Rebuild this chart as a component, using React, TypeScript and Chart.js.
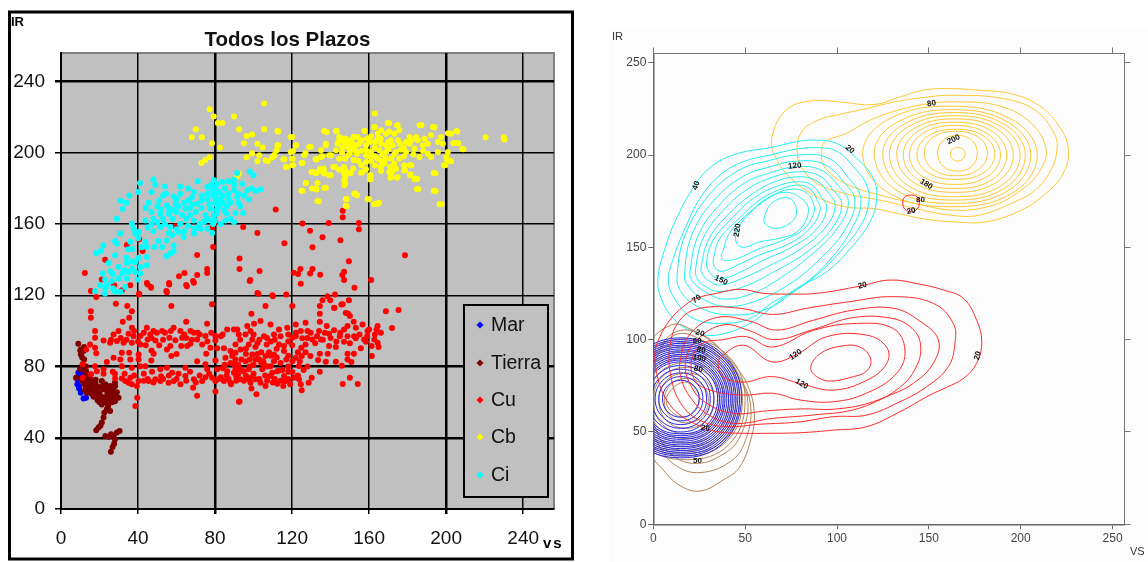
import React, { useEffect, useRef } from "react";
import { Chart, registerables } from "chart.js";

Chart.register(...registerables);

type P = number[];

const chartTitle = "Todos los Plazos";
const leftTicks = [0, 40, 80, 120, 160, 200, 240];
const rightTicks = [0, 50, 100, 150, 200, 250];
const seriesNames = ["Mar", "Tierra", "Cu", "Cb", "Ci"];

const marCloud: P[] = [[9, 76.5], [8.5, 72.8], [8.5, 70], [9.4, 67.7], [10.3, 65.3], [11.7, 62], [10.8, 77.4], [10.3, 74.6], [16, 67.2], [16.9, 68.1], [9, 74], [9.2, 69], [13, 62.5]];

const tierraCloud: P[] = [[9, 92.8], [10.3, 89.6], [10.3, 86.8], [11.7, 88.7], [11.3, 81.2], [9.9, 78.4], [7.8, 73.7], [11.7, 78.4], [12.5, 74.6], [14.3, 71.8], [15.1, 68.1], [13.4, 65.3], [16.9, 71.8], [17.7, 67.2], [18.6, 63.4], [21.2, 71.8], [22.1, 67.2], [23, 62.5], [25.5, 69], [25.5, 65.3], [28.1, 69], [28.1, 63.4], [29.9, 62.5], [23.8, 59.7], [21.2, 58.7], [25.5, 55], [23.8, 56], [22.1, 51.3], [21.2, 48.5], [19.5, 45.7], [18.3, 44.2], [24.7, 40.6], [27.3, 41], [29, 42.9], [30.4, 43.8], [27.6, 36.7], [26.8, 34.8], [25.9, 32.2], [12, 84], [13, 80], [13.5, 76], [12, 70], [14, 68], [16, 64.5], [18, 70], [20, 65], [20, 68.5], [24, 66], [26, 62.5], [27, 66.5], [23, 70], [26.5, 60], [15, 74], [17, 66], [19, 61], [28, 71], [24, 64], [22, 60.5], [10, 89], [13, 73], [14.5, 70], [15.5, 66], [17, 63], [19, 66.5], [21, 63], [22, 69], [24, 68], [26, 67.5], [27, 64], [29, 65.5], [12.5, 67], [11, 72], [13, 77.5], [16, 69], [18, 72.5], [20, 60], [25, 61.5], [28, 60.5], [24.5, 58], [22.5, 54], [20.5, 46.8], [26, 42], [28, 39], [23, 41], [11, 85], [12, 91]];

const cuCloud: P[] = [[111.5, 168.2], [94.6, 158.3], [102, 155], [79, 147.1], [70.7, 142.6], [92.7, 140.6], [92.7, 134.8], [103.1, 133.6], [98, 128], [75.9, 134.8], [75.9, 132.5], [70.7, 131.4], [64.1, 132.5], [61.3, 130.7], [68.6, 128], [65, 125.8], [56.1, 126.9], [44.6, 126.9], [46.7, 124.7], [54.7, 122.4], [12.4, 132.5], [34.2, 148.2], [40.6, 151.4], [42.4, 144.9], [22.9, 140], [21.2, 128.8], [15.5, 122.4], [18.3, 119], [27.6, 125.6], [36, 125.6], [31.6, 122.8], [40.6, 120.9], [102, 121.3], [109.7, 120], [80.2, 161.1], [78.5, 158], [59.4, 158.7],
[146.3, 167.4], [146.3, 163.8], [154.7, 160.6], [154.7, 157.1], [139, 160.6], [125.4, 160.3], [129.3, 156.2], [135.8, 152.6], [145.1, 150.9], [130.6, 147], [116, 149.2], [149.5, 139.1], [178.6, 142.5], [120.8, 132.6], [124.3, 134.7], [123.1, 131.9], [130.6, 134.7], [129.4, 132.2], [134.6, 131.5], [147, 133.2], [146.1, 131.3], [98.3, 128.5], [161, 128.5], [147, 128.5],
[45, 126], [56.2, 126], [65.4, 125], [69, 127], [102.5, 120.8], [110.1, 119.5], [117, 120.4], [138.4, 119.5], [142.3, 120.4], [152.4, 124.2], [124.5, 126.4], [135.8, 117.2], [78.4, 115], [40.5, 120.4], [55, 121.7], [46.8, 124.2], [139.8, 117.2], [142, 112.9], [146.3, 115], [149.5, 117.2], [149, 109.8],
[106.2, 113.9], [120.1, 113.9], [134.4, 113.9], [145.6, 114.8], [141.8, 113], [134.4, 109.6], [98.9, 109.6], [147.9, 110], [150, 108.3], [152, 105.1], [168.7, 111], [175.3, 111.7], [171.9, 101.6], [164.4, 102.7], [163.9, 100.8], [166.1, 99], [160, 100.8], [159.2, 99.9], [156.6, 103.6], [153.1, 101.7], [148.8, 102.7], [147, 100.8], [141.8, 100.3], [139.2, 98.4], [134, 99.9], [134.9, 95.2], [130.5, 95.2], [129.7, 98.9], [124.5, 99.9], [121.9, 103.6], [127, 104.6], [134.4, 105.1], [138, 102.7], [121.9, 97], [125.3, 95.8], [120.1, 96.1], [127, 92.4], [124.8, 90.5], [139.2, 91.5], [142.7, 90.9], [147, 93.9], [144.8, 97], [148.8, 97], [152.2, 97], [153.1, 95.8], [157.4, 95.2], [158.3, 93.9], [162.7, 95.2], [164.4, 93.3], [164.9, 90.9], [161.3, 91.5], [155.7, 90.2], [161.4, 85.9], [152.1, 87.2], [148.8, 87.2], [148.8, 84], [150.8, 82.5], [138.5, 87.2], [134.4, 87.2], [129.5, 85.9], [133.5, 83.6], [137.5, 82.7], [142.7, 82.7], [145.8, 80.4], [126, 78], [134.4, 77], [130.2, 73.7], [128.6, 70.9], [150, 73.7], [146.3, 70.2], [154.1, 70.2], [121.9, 84.9], [125, 85.9], [120.1, 83], [123.6, 80.3], [120.1, 76.9], [121, 73.7], [123.6, 72.8], [124.5, 70], [125, 66.6], [115.8, 74.6], [116.6, 71.8], [115.4, 69], [112.3, 70.3], [106.2, 69], [98.9, 67.7], [101.5, 64.4], [92.7, 60.3], [113.2, 77.8], [109.7, 76.5], [108.8, 80.2], [104.5, 78.4], [110.6, 83], [110.6, 86.8], [106.8, 92.4], [106.2, 85.9], [99.3, 86.8], [93.2, 89.6], [97.5, 92.4], [113.2, 92.4], [115.8, 91.5], [115.8, 88.7], [100.2, 104], [103.6, 105.5], [108.8, 103.6], [113.2, 100.8], [117.5, 101.7], [96.7, 102.7], [91.5, 100.8], [98.4, 99.9], [105.4, 97], [110.6, 98], [95.8, 98], [92.3, 98], [99.3, 95.2], [90.6, 92.4], [93.7, 84], [90.6, 84], [88.9, 85.9], [95.8, 83], [101, 84], [105.4, 81.2], [97.5, 78.4], [93.2, 78.4], [90.6, 78.4], [94.9, 77.4], [93.2, 72.8], [97.5, 72.8], [101, 72.8], [98.4, 70.9], [103.6, 70.9], [88.3, 70], [108.8, 74.6], [112.3, 77.4],
[57.3, 113.9], [28.5, 115.2], [34.4, 113.9], [15.5, 111], [15.5, 107.4], [36.8, 111], [35.4, 107.4], [32.1, 105.1], [65, 105.1], [75.9, 104], [17.7, 99.9], [44.6, 101.7], [36.8, 101.7], [27.3, 98], [29.9, 99.9], [35.1, 98.4], [41.2, 97.1], [46.4, 98], [49.8, 98.9], [52.5, 99.9], [58.5, 101.7], [62, 99.9], [67.2, 99.9], [69, 98.9], [75, 97.1], [80.2, 97.1], [86.3, 100.8], [89.8, 100.8], [17.7, 96.1], [22.1, 94.6], [25.5, 93.3], [29, 94.3], [32.5, 93.3], [37.7, 97], [36.8, 93.3], [41.2, 92.4], [45, 95.2], [49, 94.6], [56.3, 96.1], [59.4, 94.8], [62.9, 96.1], [62.4, 91.5], [67.2, 92.8], [65.5, 91.5], [55, 89.6], [56.8, 91.5], [70.7, 95.2], [73.3, 92.4], [80.2, 94.6], [77.6, 90.5], [81.1, 90.2], [84.6, 90.2], [88, 88.7], [90.6, 87.7], [75.4, 87.2], [15.1, 92.4], [13.1, 89.6], [17.7, 90.5], [18.3, 87.4], [31.6, 87.7], [35.4, 87.7], [40.3, 86.8], [48.1, 87.2], [57.3, 85.9], [27.3, 84.9], [23.8, 82.5], [30.8, 84], [36, 84], [40.3, 84], [46.9, 83.4], [43.8, 80.2], [31.6, 80.2], [36.8, 79.3], [41.2, 80.2], [17.7, 80.2], [18.6, 77.4], [22.1, 78.4], [22.1, 76], [26.9, 77], [11.3, 81.2], [11.3, 73.7], [15.6, 75.6], [47.3, 77], [51.6, 78.4], [55, 79.3], [57.7, 76.5], [64.6, 79.3], [70.7, 83], [75, 81.2], [80.2, 83.4], [85.4, 84.9], [89.8, 81.2], [75.9, 78.4], [81.1, 78.4], [86.3, 77.4], [89.8, 76.5], [28.1, 73.3], [31.6, 73.3], [35.1, 70.9], [36.8, 70], [40.3, 71.8], [39.4, 69], [45.5, 71.8], [49, 72.8], [51.6, 71.8], [55.9, 70.9], [58.5, 71.8], [64.6, 74.6], [62, 70], [69, 72.8], [73.3, 71.8], [78.5, 73.7], [80.2, 71.8], [84.6, 71.8], [88, 70.9], [68.6, 68.1], [80.2, 65.9], [70.7, 63.6], [92.4, 60.2], [39.6, 62.5], [38.6, 57.8], [36, 73.7], [33.4, 71.8],
[43, 76], [52, 74.5], [60, 73], [67, 77], [72, 75], [77, 76], [83, 74], [91, 74.5], [96, 75], [100, 76], [106, 75], [111, 73], [118, 73], [44, 92], [51, 92], [47, 89], [60, 87], [65, 96], [72, 98], [83, 97], [93, 95], [102, 93], [109, 94], [118, 94], [128, 96], [132, 93], [136, 95], [143, 94], [150, 93], [104, 88], [112, 90], [118, 86], [127, 88], [123, 75], [103, 84], [107, 80], [100, 81], [92, 81], [96, 87], [88, 82], [84, 79], [118, 80], [114, 82], [128, 80],
[38, 100], [43, 99], [48, 100], [54, 99], [57, 100], [64, 98], [71, 99], [78, 99], [84, 98], [26, 95], [31, 96], [34, 95], [40, 94], [47, 96], [53, 95], [68, 95], [76, 94], [45, 73], [48, 71], [53, 73], [56, 75], [61, 76], [65, 72], [70, 71], [75, 74], [82, 73], [86, 75], [91, 72], [95, 72], [99, 74], [103, 73], [107, 72], [110, 71], [114, 72], [28, 76], [33, 76], [38, 75], [43, 72], [85, 81], [98, 84], [102, 87], [108, 88], [112, 85], [117, 84], [103, 95], [107, 96], [111, 95], [100, 98], [114, 97], [118, 98], [122, 99], [128, 100], [133, 97], [137, 99], [140, 96], [145, 99], [109, 86], [115, 78], [119, 70], [98, 80], [104, 82], [92, 76], [87, 73], [96, 90], [101, 91], [105, 83], [118, 77], [124, 83], [123, 88], [120, 92], [155, 98], [159, 97], [163, 98]];

const cbCloud: P[] = [[77.2, 224.4], [79.3, 220.4], [89.9, 220.4], [105.5, 227.7], [81.4, 216.7], [83.7, 216.7], [70, 213.2], [92.5, 213.2], [105.5, 213.2], [112.8, 212], [67.9, 208.7], [73.2, 208.7], [96.4, 209.4], [99.2, 210.2], [78.4, 205.3], [95, 205.3], [82.6, 203], [104.8, 203], [102, 205], [112.8, 204.2], [77.2, 197.5], [74.9, 196], [73, 194.3], [99.2, 199.7], [96.4, 197.5], [103, 198.6], [102, 195.2], [106.3, 195.8], [107.4, 195.2], [110.7, 198.6], [109.7, 197.3], [112, 201.4], [116, 196.3], [117.2, 192], [92.5, 188.3], [91.6, 186.8], [120, 208.9], [122, 204.2], [120.5, 201], [120, 196.7], [120.5, 193], [129.8, 203.3], [127, 199.9], [125.4, 194.3], [132.7, 196.2], [135.6, 198], [140.3, 198.6], [137.5, 204.2], [138, 211.7], [143.2, 212.2], [130.8, 189.2], [132.7, 188.7], [134.6, 190.2], [136.5, 191.1], [137.1, 188.3], [140, 187.4], [142.3, 192], [127.3, 183], [125.4, 178.6], [130.4, 179.9], [132.7, 179.3], [137.5, 180.3], [133.8, 172.8], [148.4, 173.9], [152.8, 177.1], [153.7, 176.2], [148.4, 170], [160, 173.9], [163.3, 171.5], [165.2, 171.9], [147.6, 190.2], [147.6, 186.4], [147.6, 182.7], [150.5, 188.7], [156.6, 189.2], [160.8, 187.4], [160.8, 185.5], [162.9, 222], [162.9, 214.3], [170.4, 216.5], [157.6, 212.2], [166.2, 212.6], [170.4, 212], [174.8, 215.4], [175.7, 212.6], [187.2, 215.4], [193.9, 214.3], [205.8, 212], [202.5, 210.7], [220.5, 208.7], [229.9, 208.7], [230.2, 207.4], [206.3, 205.3], [203.8, 205.3], [209, 202], [202.5, 195.2], [199.6, 193], [200.6, 195.8], [194.5, 188.5], [185, 185.3], [185.5, 179.5], [194.5, 178.4], [197.7, 171.1], [181.5, 187.9], [184, 185.5], [181.9, 193], [178.6, 190.2], [171.9, 189.2], [171.3, 186.4], [174.8, 186.4],
[142.8, 212.2], [136.7, 212.2], [144.5, 208.8], [148, 207.9], [150.6, 207], [154, 208.8], [157.5, 212.2], [161, 209.2], [164.5, 210.7], [168.8, 210.7], [162.7, 214.4], [169.7, 216.7], [174.5, 215.4], [173.1, 210.7], [181, 208.8], [186.2, 215.4], [193.1, 214.4], [184.4, 208.8], [192.2, 209.8], [197.4, 208.8], [200.9, 211], [205.3, 212.2], [143.6, 205], [144.5, 207], [148, 204.2], [149.7, 205], [150.6, 202.3], [153.2, 204.2], [155.8, 207], [158.4, 204.2], [160.1, 206], [164.5, 207.9], [171.4, 207], [168.8, 204.2], [172.3, 204.2], [166.2, 205], [179.2, 206], [181, 205], [185.3, 207], [188.8, 207.9], [187.9, 204.2], [190.5, 205], [195.7, 206], [198.3, 205], [204.4, 205.5], [206.1, 205.5], [208.4, 202.1], [183.6, 202.3], [179.2, 200.4], [176.6, 201.7], [174, 200.4], [168.8, 200.4], [165.3, 201.4], [161, 200.4], [158.4, 201.4], [153.7, 199.5], [149.2, 198.6], [147.4, 196.7], [144.5, 196.7], [154.4, 195.4], [158.4, 198.6], [158.4, 194.8], [161, 195.4], [164.5, 196.7], [166.2, 195.4], [168.8, 196.7], [171.4, 196.7], [173.1, 193.9], [175.7, 196.7], [178.3, 193], [178.3, 190.1], [181.3, 193], [181.3, 187.3], [183.6, 185.1], [174.5, 186], [170.5, 189.2], [171.1, 186], [166.2, 189.8], [160.5, 187.3], [160.5, 185], [155.8, 188.8], [151.8, 191.1], [158.4, 190.7], [150, 188.6], [147.1, 188.3], [147.1, 184.5], [147.1, 181.7], [144.5, 190.5], [141.5, 192], [139.3, 187.3], [136.3, 188.6], [134.4, 190.7], [132.3, 188.6], [130.1, 189.2], [127.1, 183], [124.9, 178.6], [133.2, 183], [132.3, 179.9], [136.7, 180.2], [133.2, 172.9], [147.9, 174], [152.3, 177], [159.2, 174], [164.5, 171.4], [147.9, 170.1], [162.7, 171.1], [193.6, 188.6], [184.8, 179.7], [193.6, 178.6], [196.6, 171.1], [186.2, 197.6], [192.2, 197.6], [190.5, 199.5], [195.7, 200.4], [200.9, 200.4], [200, 197.6], [198.8, 193], [202.1, 195.4], [110.6, 198.6], [115.5, 196.3], [116.7, 192], [119.3, 208.8], [112.4, 212.2], [112.4, 204.2], [121.9, 204.2], [119.3, 200.4], [120.2, 196.7], [120.2, 193], [126.3, 198.6], [125, 194.3], [128.9, 203.2], [135, 201.4], [132.3, 196.3], [134.9, 197.6], [139.3, 198.6], [137.5, 205], [142.8, 201.4], [146, 203], [151, 206], [152, 203], [156, 201], [146, 200], [155, 205], [163, 203], [170, 202], [176, 205], [178, 198], [183, 199], [188, 201], [163, 198], [160, 198], [173, 199], [167, 199], [147, 206], [150, 200], [152, 209], [156, 207], [149, 203], [147, 208], [153, 201], [159, 208], [163, 206], [166, 208], [170, 206], [175, 207], [178, 203], [182, 207], [147, 192], [152, 196], [156, 193], [163, 193], [166, 192], [168, 194], [171, 192], [174, 191]];

const ciCloud: P[] = [[48, 185], [41, 183], [49, 182], [40, 178], [35.5, 176], [31, 173], [34, 172], [32, 168.5], [29, 163], [47, 178], [54, 181], [54.5, 177], [58.5, 175.5], [62, 181], [66, 180], [71, 184], [69, 178], [62, 177], [45.5, 172], [51, 173], [55, 170.5], [59.5, 171.5], [44, 169], [47, 166.7], [51.5, 165.8], [56, 165.8], [60, 166.7], [64.6, 168.6], [70, 166.7], [66.3, 173.3], [70.7, 171.4], [76, 174], [76, 180.8], [79.4, 184.5], [78.5, 178.9], [83.7, 183.6], [89.8, 184.9], [91.5, 188.6], [98, 189.5], [100, 187.3], [94, 182.6], [96.7, 178.9], [103.7, 179.4], [101, 178.5], [97.6, 173.7], [91.5, 175], [87, 177], [82.8, 174.2], [81, 170.5], [84.6, 167.7], [77.6, 168.6], [90.6, 166.2], [94.6, 166.2], [89.8, 161.1], [85.4, 162], [79.4, 164.9], [74.2, 161.1], [69, 162], [76, 157.4], [78.5, 155], [72.4, 157.4], [69, 154.6], [69, 157.4], [63.7, 152.7], [61, 155.5], [56.8, 158.3], [51.6, 158.3], [57.7, 153.7], [55, 150.8], [50.7, 150.5], [43.8, 162], [36.8, 160.2], [37.7, 157.4], [40.3, 155.5], [30.8, 154.6], [28.1, 150.5], [29, 149], [22, 148], [20.7, 144.9], [18.3, 143.7], [28.1, 142.4], [24.7, 138.1], [34.2, 138.1], [35, 145.8], [38.6, 154.6], [43.8, 149.9], [44.6, 147.1], [48.5, 147.1], [52.5, 147.1], [58.5, 148], [58.5, 144.7], [54.7, 141.9], [56.8, 143.4], [40.3, 141.1], [44.6, 141.5], [38.6, 138.7], [44.6, 136.8], [41.2, 135.9], [36.8, 135], [29.9, 135.9], [25.5, 133.5], [21.7, 132.2], [22.9, 128.8], [26.4, 128], [31.6, 132.2], [34.2, 129.4], [38.6, 133], [41.2, 132.2], [39.8, 128.8], [20.3, 125.6], [17.7, 122.4], [22.9, 121], [28.1, 121.9], [30.8, 121.9], [33.4, 124.7], [29.9, 129.4],
[48, 163], [52, 168], [54, 160], [58, 163], [62, 160], [65, 163], [67, 169], [73, 169], [73, 176], [79, 176], [80, 180], [82, 178], [85, 180], [88, 172], [90, 179], [93, 170], [81, 166], [83, 160], [80, 172], [82, 170], [77, 171], [75, 165], [72, 160], [66, 159], [60, 157], [56, 155], [48, 156], [45, 158], [40, 152], [36, 150], [37, 146], [42, 147], [34, 141], [37, 139], [33, 134], [35, 133], [27, 132], [24, 126], [27, 124], [23, 124], [80, 178], [81, 182], [81, 168], [80, 162], [79, 160], [76, 163], [73, 173], [68, 175], [64, 172], [61, 170], [58, 168], [53, 163], [99, 180], [95, 176], [92, 172], [86, 170], [84, 176], [78, 182], [90, 182], [87, 184], [50, 161], [56, 169], [63, 165], [67, 165], [71, 158], [64, 156], [78, 162], [83, 172], [87, 174], [92, 177], [76, 177], [80, 175], [84, 172], [86, 166], [88, 163], [68, 171], [60, 174], [53, 176], [50, 170], [47, 160]];

const contoursCb: P[][] = [
  [[64.6, 209.8], [72.2, 224.3], [85.6, 229.3], [100.9, 228.8], [120, 227.3], [133.3, 231.1], [146.7, 235.1], [160, 236], [177.3, 235.1], [194.5, 233.3], [209.7, 227], [221.2, 215.2], [226, 202.6], [223.1, 190], [213.6, 179.1], [200.2, 170.1], [181.1, 163.8], [163.9, 163.8], [148.6, 165.2], [133.3, 168.3], [120, 171], [104.7, 171.9], [89.4, 177.3], [76, 186.4], [66.5, 199], [64.6, 209.8]],
  [[78.3, 200.8], [80.7, 212.5], [89.4, 218.8], [100.9, 221.9], [116.2, 225.2], [131.5, 228.8], [149.6, 231.5], [163.9, 232.4], [190.6, 230.6], [207.8, 224.3], [218.3, 211.6], [219.7, 202.6], [216.4, 191.8], [207.8, 180.9], [194.5, 173.7], [177.3, 167.4], [162, 167.4], [142.9, 171], [123.8, 175.5], [104.7, 179.1], [89.4, 184.5], [81.8, 191.8], [78.3, 200.8]],
  [[91.7, 200.8], [93.2, 207.1], [104.7, 211.6], [118, 218.8], [133.3, 224.3], [150.5, 227.9], [165.8, 228.8], [186.8, 227], [204, 218.8], [213.6, 204.4], [210.7, 191.8], [200.2, 181], [184.9, 172.8], [163.9, 170.1], [142.9, 173.7], [123.8, 178.2], [104.7, 184.5], [93.2, 193.6], [91.7, 200.8]],
  [[209, 200], [195.7, 219], [161.5, 226.5], [127.3, 219], [114, 201], [127.3, 180], [161.5, 172], [195.7, 179.5], [209, 200]],
  [[205.5, 200], [193.6, 217.5], [162.9, 224.6], [132.2, 217.5], [120.2, 201], [132.2, 181], [162.9, 173.8], [193.6, 181], [205.5, 200]],
  [[202.5, 200], [191.7, 216.3], [163.7, 223], [135.7, 216.3], [124.9, 200.5], [135.7, 182.3], [163.7, 175.6], [191.7, 182.3], [202.5, 200]],
  [[199.7, 200], [189.7, 215.2], [164.1, 221.3], [138.5, 215.2], [128.5, 200.5], [138.5, 183.6], [164.1, 177.4], [189.7, 183.6], [199.7, 200]],
  [[196, 200], [187.1, 214], [164.2, 219.6], [141.3, 214], [132.5, 200.5], [141.3, 185.4], [164.2, 179.8], [187.1, 185.4], [196, 200]],
  [[192.4, 200], [184.5, 212.8], [164.2, 217.8], [143.9, 212.8], [136.1, 200], [143.9, 186.8], [164.2, 181.9], [184.5, 186.8], [192.4, 200]],
  [[189, 200], [182.1, 211.4], [164.2, 216], [146.3, 211.4], [139.4, 200], [146.3, 188.6], [164.2, 184.1], [182.1, 188.6], [189, 200]],
  [[186, 200.4], [180, 210.2], [164.7, 214], [149.4, 210.2], [143.5, 200.4], [149.4, 190.6], [164.7, 186.8], [180, 190.6], [186, 200.4]],
  [[181.9, 201], [177.1, 209.6], [164.7, 212.9], [152.3, 209.6], [147.5, 201], [152.3, 192.2], [164.7, 188.8], [177.1, 192.2], [181.9, 201]],
  [[176.4, 201], [173.4, 208], [165.6, 210.6], [157.8, 208], [154.8, 201], [157.8, 194], [165.6, 191.3], [173.4, 194], [176.4, 201]],
  [[169.7, 200.5], [168.6, 203.2], [165.7, 204], [162.8, 203.2], [161.7, 200.5], [162.8, 198], [165.7, 196.7], [168.6, 198], [169.7, 200.5]],
];

const contoursCi: P[][] = [
  [[2.7, 135], [6.4, 149.4], [11.8, 163.9], [22.7, 183.7], [32.7, 194.6], [46.3, 200.9], [63.5, 204], [78, 207.2], [87.1, 208.1], [99.8, 206.3], [110.7, 198.2], [119.8, 187.3], [121.6, 176.5], [118, 163.9], [108.9, 151.2], [94.4, 136.8], [78, 127.8], [63.5, 116.9], [52.6, 108.8], [34.5, 102.5], [21.8, 104.3], [10.9, 111.5], [3.6, 124.2], [2.7, 135]],
  [[8.2, 131.4], [10.9, 144], [17.3, 160.3], [25.4, 176.5], [36.3, 189.1], [49, 196.4], [63.5, 200], [78, 203.2], [89, 204], [99.8, 202.1], [108.9, 193.7], [116.2, 183.7], [117.1, 172.9], [112.5, 161.2], [101.7, 147.6], [89, 135], [76.2, 126], [65.4, 120.5], [52.6, 111.5], [37.2, 108.8], [21.8, 111.5], [12.7, 120.5], [8.2, 131.4]],
  [[13, 135], [17.3, 156.6], [30, 178], [47, 192], [63, 197], [78, 200], [95, 198.5], [106, 188], [113, 176], [108, 160], [95, 142], [78, 127], [60, 116], [40, 113.5], [24, 118], [15, 126], [13, 135]],
  [[17, 135], [20.9, 156.6], [33, 175.5], [49, 188.5], [63, 193.5], [78, 196.7], [93, 195], [104, 185], [109.8, 175], [104, 159], [90, 143], [74, 130], [56, 121], [40, 118], [27, 122], [19, 129], [17, 135]],
  [[20, 137], [24.5, 156.6], [36, 173], [50, 185], [64, 190.5], [78, 193.7], [91, 192], [101, 183], [106.2, 174], [100, 160], [86, 146], [70, 134], [54, 125], [38, 122], [28, 126], [21, 132], [20, 137]],
  [[23, 138], [27.2, 155], [38, 170], [52, 182], [65, 188], [78, 190.9], [90, 189], [98, 181], [102.6, 173], [97, 160], [83, 147], [66, 137], [50, 129], [36, 126], [28, 129], [24, 133], [23, 138]],
  [[26, 139], [30.5, 155], [41, 168], [54, 179], [66, 185.5], [78, 188.2], [88, 186.5], [95, 180], [99, 172], [93, 160], [80, 149], [63, 140], [48, 133], [36, 129.6], [30, 132], [27, 135], [26, 139]],
  [[29, 141], [32.7, 154], [43, 166], [55, 177], [67, 183], [78, 185.5], [86, 184], [91, 178], [94.4, 171], [89, 160], [77, 151], [60, 143], [46, 136], [37, 133], [32, 135], [29, 141]],
  [[33, 145], [36.3, 155], [46, 165], [57, 175], [68, 181], [78, 183.7], [85, 182], [89, 176], [90.8, 170], [85, 160], [74, 152], [58, 146], [45, 140], [37, 137], [33, 140], [33, 145]],
  [[38, 148], [41, 157], [49, 166], [59, 174], [69, 180], [78, 181.5], [84, 179], [87, 174], [87.5, 169], [82, 160], [71, 154], [57, 149], [46, 144], [39, 143], [37, 145], [38, 148]],
  [[45, 153], [46, 160], [53, 169], [61, 176], [71, 179.8], [80, 177], [84.5, 170], [79, 159], [69, 155], [58, 153], [49, 150], [45, 153]],
  [[60.8, 167.5], [65.4, 174.7], [74.4, 176.5], [78, 169.3], [74.4, 163], [66.2, 160.3], [60.8, 163], [60.8, 167.5]],
];

const contoursCu: P[][] = [
  [[0.9, 92.6], [3.6, 101.6], [9, 110.6], [16.3, 117.9], [23.6, 122.4], [34.5, 125.1], [47.2, 127.3], [59.9, 125.1], [72.6, 124.7], [89, 125.1], [112.5, 129], [128.9, 132.3], [145.2, 130], [157.9, 126.9], [168.8, 122.4], [176, 110.6], [178.8, 98.9], [176, 87.2], [168.8, 79], [159.7, 74.2], [150.6, 70], [134.3, 61], [116.2, 52.9], [98, 51], [79.9, 49.6], [63.5, 49.3], [48.5, 49.3], [34.5, 50.2], [25.4, 53.2], [14.5, 59.2], [7.3, 67.3], [2.7, 78.2], [0.9, 92.6]],
  [[9, 96], [14.5, 110.6], [25.4, 117], [47.2, 117], [65.3, 113.7], [83.5, 117], [107, 120.6], [130.7, 123.3], [152.4, 119.7], [163.3, 108.8], [164.2, 98], [160.6, 85.4], [148.8, 74.5], [134.3, 66.4], [116.2, 59.2], [98, 58.3], [79.9, 55.5], [58, 54.2], [40, 52.9], [26, 56], [16, 64], [10, 78], [9, 96]],
  [[14.5, 88], [20, 103], [34.5, 112], [52.6, 110], [67, 105.2], [87, 110.5], [108.9, 116], [130.7, 117], [145.2, 110], [155.2, 99.8], [152.4, 87.2], [141.6, 76.4], [127, 69.1], [108.9, 62], [87, 59.2], [65.3, 57.4], [43.6, 54.7], [29, 60], [20, 69], [15.4, 78.2], [14.5, 88]],
  [[17.5, 88], [24, 100], [38, 108], [52, 105], [66, 100], [87, 105.5], [109, 112], [130, 111.5], [141, 106], [145.5, 97], [143, 85], [134, 74], [120, 66.5], [100, 62.5], [80, 62.5], [62, 61.5], [44, 60], [30, 65], [21, 74], [17.5, 88]],
  [[20.9, 89], [27, 98], [38, 100], [50.8, 101.6], [65, 96], [87, 105], [110.7, 108.8], [130.7, 106], [137, 94.4], [132.5, 81.8], [116, 71], [98, 66.4], [80, 67.3], [65, 71], [49, 70], [30.9, 72.7], [22.7, 78], [20.9, 89]],
  [[35.4, 85.4], [36.3, 90], [49, 97], [64.4, 88], [78, 92], [94.4, 101.6], [116, 102.5], [127, 96], [127, 87], [116.2, 78], [98, 72.7], [80.8, 76], [64.4, 80], [49, 77], [38, 80], [35.4, 85.4]],
  [[85.7, 85], [90.7, 92.3], [101.6, 96.4], [112.5, 96], [118.3, 89.5], [116.1, 83], [107, 79.5], [96.1, 77.6], [88.9, 80], [85.7, 85]],
  [[144.8, 174], [143.5, 177.4], [140.3, 178.3], [137, 177.4], [135.8, 174], [137, 170.6], [140.3, 169.3], [143.5, 170.6], [144.8, 174]],
];

const contoursTierra: P[][] = [
  [[10, 108], [21.8, 105], [32.7, 98], [43.6, 87], [51.7, 74.5], [55, 60], [53.5, 47.5], [47, 31], [38, 24], [25.4, 18], [14.5, 21], [5.4, 29.4], [-1, 38.4], [-6, 70], [-4, 95], [10, 108]],
  [[53, 64], [50, 45], [42, 34], [25.4, 28], [12, 32], [3, 43], [-4, 58], [-3, 80], [5, 98], [15, 105], [28, 102], [38, 93], [47, 80], [53, 64]],
  [[51.5, 66], [47, 47], [38, 38], [24, 33], [11, 37], [2, 50], [-3, 70], [3, 93], [13, 103], [26, 100], [36, 92], [45, 82], [51.5, 66]],
  [[50, 67], [41, 91], [18, 100.5], [-5, 91], [-14, 67], [-5, 43], [18, 35], [41, 43], [50, 67]],
  [[48.5, 67], [40, 89], [18, 98.5], [-4, 89], [-12.5, 67], [-4, 45], [18, 37], [40, 45], [48.5, 67]],
  [[47, 67], [38.9, 88], [18, 96.5], [-3, 88], [-11, 67], [-3, 46], [18, 38.5], [38.9, 46], [47, 67]],
  [[45, 67], [37.4, 86], [18, 94], [-1.4, 86], [-9, 67], [-1.4, 48], [18, 40], [37.4, 48], [45, 67]],
  [[43, 67], [36, 85], [18, 92], [0, 85], [-7, 67], [0, 49], [18, 42], [36, 49], [43, 67]],
  [[41, 67], [34.6, 83.6], [18, 90], [1.4, 83.6], [-5, 67], [1.4, 50.4], [18, 44], [34.6, 50.4], [41, 67]],
  [[38.5, 67], [32.8, 82], [18, 87.5], [3.2, 82], [-2.5, 67], [3.2, 52], [18, 46.5], [32.8, 52], [38.5, 67]],
  [[36, 67], [31, 80], [18, 85], [5, 80], [0, 67], [5, 54], [18, 49], [31, 54], [36, 67]],
  [[33, 67], [28.8, 77.8], [18, 82], [7.2, 77.8], [3, 67], [7.2, 56.2], [18, 52], [28.8, 56.2], [33, 67]],
  [[30, 67], [26.6, 75.6], [18, 79], [9.4, 75.6], [6, 67], [9.4, 58.4], [18, 55], [26.6, 58.4], [30, 67]],
  [[25, 68], [22.5, 74], [17, 77], [10, 73], [7, 67], [10, 61], [17, 58], [22.5, 62], [25, 68]],
];

const contoursMar: P[][] = [
  [[48, 69], [38.4, 91.5], [15, 101], [-8.4, 91.5], [-18, 68], [-8.4, 44.5], [15, 36], [38.4, 44.5], [48, 69]],
  [[47, 69], [37.7, 90.7], [15, 100], [-7.7, 90.7], [-17, 68], [-7.7, 45.3], [15, 37], [37.7, 45.3], [47, 69]],
  [[46, 69], [37, 90], [15, 99], [-7, 90], [-16, 68], [-7, 46], [15, 38], [37, 46], [46, 69]],
  [[45, 68.5], [36.3, 89.3], [15, 98], [-6.3, 89.3], [-15, 68], [-6.3, 46.7], [15, 39], [36.3, 46.7], [45, 68.5]],
  [[44, 68.5], [35.6, 88.6], [15, 97], [-5.6, 88.6], [-14, 68], [-5.6, 47.4], [15, 40], [35.6, 47.4], [44, 68.5]],
  [[43, 68.5], [34.9, 87.9], [15, 96], [-4.9, 87.9], [-13, 68], [-4.9, 48.1], [15, 41], [34.9, 48.1], [43, 68.5]],
  [[42, 68], [34.2, 87.2], [15, 95], [-4.2, 87.2], [-12, 68], [-4.2, 48.8], [15, 42], [34.2, 48.8], [42, 68]],
  [[41, 68], [33.5, 86.5], [15, 94], [-3.5, 86.5], [-11, 68], [-3.5, 49.5], [15, 43], [33.5, 49.5], [41, 68]],
  [[40, 68], [32.8, 85.8], [15, 93], [-2.8, 85.8], [-10, 68], [-2.8, 50.2], [15, 44], [32.8, 50.2], [40, 68]],
  [[39, 68], [32, 85], [15, 92], [-2, 85], [-9, 68], [-2, 51], [15, 45], [32, 51], [39, 68]],
  [[38, 68], [31.3, 84.3], [15, 91], [-1.3, 84.3], [-8, 68], [-1.3, 51.7], [15, 46], [31.3, 51.7], [38, 68]],
  [[37, 68], [30.6, 83.6], [15, 90], [-0.6, 83.6], [-7, 68], [-0.6, 52.4], [15, 47], [30.6, 52.4], [37, 68]],
  [[36, 68], [29.9, 82.9], [15, 89], [0.1, 82.9], [-6, 68], [0.1, 53.1], [15, 48], [29.9, 53.1], [36, 68]],
  [[35, 68], [29.2, 82.2], [15, 88], [0.8, 82.2], [-5, 68], [0.8, 53.8], [15, 49], [29.2, 53.8], [35, 68]],
  [[33, 68], [27.8, 80.8], [15, 86], [2.2, 80.8], [-3, 68], [2.2, 55.2], [15, 50], [27.8, 55.2], [33, 68]],
  [[31, 68], [26.4, 79.4], [15, 84], [3.6, 79.4], [-1, 68], [3.6, 56.6], [15, 52], [26.4, 56.6], [31, 68]],
  [[29, 68], [24.9, 77.9], [15, 82], [5.1, 77.9], [1, 68], [5.1, 58.1], [15, 54], [24.9, 58.1], [29, 68]],
  [[27, 68], [23.5, 76.5], [15, 80], [6.5, 76.5], [3, 68], [6.5, 59.5], [15, 56], [23.5, 59.5], [27, 68]],
  [[25, 68], [22.1, 75.1], [15, 78], [7.9, 75.1], [5, 68], [7.9, 60.9], [15, 58], [22.1, 60.9], [25, 68]],
];

const labelTexts = ["80", "200", "20", "120", "40", "220", "150", "180", "80", "20", "20", "70", "20", "60", "80", "100", "80", "120", "120", "20", "20", "50"];
const labelXs = [151.5, 163.5, 107, 77, 23.3, 45.8, 36.9, 148.6, 145.4, 140.4, 113.9, 23.6, 25.4, 23.9, 26, 25, 24.5, 77.5, 80.8, 176.6, 28.3, 24];
const labelYs = [227.9, 208.4, 203.1, 194.1, 183.5, 159.3, 132.2, 184.2, 175.5, 169.7, 129.3, 122, 103.4, 99.6, 94.4, 90, 84, 91.9, 76, 91.3, 52, 34.3];
const labelAngles = [-10, -25, 40, -5, -70, -80, 25, 30, 0, -10, -15, -35, 15, 0, 10, 10, 10, -35, 30, -75, 10, 0];

const pts = (arr: P[]) => arr.map(([x, y]) => ({ x, y }));

const cloudColors = ["#0000FF", "#800000", "#FF0000", "#FFFF00", "#00FFFF"];
const sansFamily = "'Liberation Sans', Arial, sans-serif";

const scatterDecor = {
  id: "scatterDecor",
  afterLayout(chart: any) {
    // The title is centred on the whole panel, not on the plot.
    if (chart.titleBlock) {
      chart.titleBlock.left = 0;
      chart.titleBlock.right = chart.width;
    }
  },
  beforeDraw(chart: any) {
    const { ctx, chartArea: a } = chart;
    ctx.save();
    ctx.fillStyle = "#FFFFFF";
    ctx.fillRect(0, 0, chart.width, chart.height);
    ctx.strokeStyle = "#000000";
    ctx.lineWidth = 3;
    ctx.strokeRect(9.5, 12, 563, 547);
    ctx.fillStyle = "#C0C0C0";
    ctx.fillRect(a.left, a.top, a.right - a.left, a.bottom - a.top);
    ctx.strokeStyle = "#808080";
    ctx.lineWidth = 2;
    ctx.beginPath();
    ctx.moveTo(a.left, a.top);
    ctx.lineTo(a.right, a.top);
    ctx.lineTo(a.right, a.bottom);
    ctx.stroke();
    ctx.restore();
  },
  afterDraw(chart: any) {
    const { ctx } = chart;
    ctx.save();
    ctx.fillStyle = "#000000";
    ctx.textBaseline = "middle";
    ctx.textAlign = "left";
    ctx.font = `bold 13px ${sansFamily}`;
    ctx.fillText("IR", 11, 22);
    ctx.font = `bold 15px ${sansFamily}`;
    (ctx as any).letterSpacing = "2px";
    ctx.fillText("vs", 543, 544);
    (ctx as any).letterSpacing = "0px";
    // legend
    ctx.fillStyle = "#C0C0C0";
    ctx.fillRect(464, 305, 84, 192);
    ctx.strokeStyle = "#000000";
    ctx.lineWidth = 2;
    ctx.strokeRect(464, 305, 84, 192);
    const rows = [325, 363, 400, 437, 475];
    ctx.font = `19.5px ${sansFamily}`;
    seriesNames.forEach((name, i) => {
      ctx.fillStyle = cloudColors[i];
      ctx.beginPath();
      ctx.moveTo(480, rows[i] - 3.5);
      ctx.lineTo(483.5, rows[i]);
      ctx.lineTo(480, rows[i] + 3.5);
      ctx.lineTo(476.5, rows[i]);
      ctx.closePath();
      ctx.fill();
      ctx.fillStyle = "#111111";
      ctx.fillText(name, 491, rows[i] + 1);
    });
    ctx.restore();
  },
};

const contourDecor = {
  id: "contourDecor",
  afterDraw(chart: any) {
    const { ctx } = chart;
    const sx = chart.scales.x;
    const sy = chart.scales.y;
    ctx.save();
    ctx.fillStyle = "#111111";
    ctx.textAlign = "center";
    ctx.textBaseline = "middle";
    ctx.font = `bold 8px ${sansFamily}`;
    labelTexts.forEach((t, i) => {
      ctx.save();
      ctx.translate(sx.getPixelForValue(labelXs[i]), sy.getPixelForValue(labelYs[i]));
      ctx.rotate((labelAngles[i] * Math.PI) / 180);
      ctx.fillText(t, 0, 0);
      ctx.restore();
    });
    ctx.fillStyle = "#333333";
    ctx.textAlign = "left";
    ctx.font = `11px ${sansFamily}`;
    ctx.fillText("IR", 3, 9);
    ctx.fillText("VS", 521, 524);
    ctx.restore();
  },
};

const leftWidths: Record<number, number> = { 40: 1.5, 80: 2.5, 120: 1.5, 160: 1.5, 200: 2.5, 240: 1.5 };
const leftHeights: Record<number, number> = { 40: 2.5, 80: 2.5, 120: 1.5, 160: 1.5, 200: 1.5, 240: 2.5 };

function cloud(label: string, data: P[], color: string, order: number) {
  return {
    label,
    data: pts(data),
    order,
    backgroundColor: color,
    borderColor: color,
    pointStyle: "circle",
    pointRadius: 3,
    pointBorderWidth: 0,
    showLine: false,
  };
}

// Each ring repeats its neighbours at both ends so the spline closes without a
// corner; those two extra spans are not painted.
function contourSets(rings: P[][], color: string, order: number) {
  return rings.map((r, i) => {
    const wrapped = [r[r.length - 2], ...r, r[1]];
    const last = wrapped.length - 1;
    return {
      label: `c${order}-${i}`,
      data: pts(wrapped),
      order,
      borderColor: color,
      borderWidth: 1,
      pointRadius: 0,
      showLine: true,
      tension: 0.4,
      fill: false,
      capBezierPoints: false,
      segment: {
        borderColor: (c: any) => (c.p0DataIndex === 0 || c.p1DataIndex === last ? "rgba(0,0,0,0)" : undefined),
      },
    };
  });
}

export default function App() {
  const leftRef = useRef<HTMLCanvasElement>(null);
  const rightRef = useRef<HTMLCanvasElement>(null);

  useEffect(() => {
    document.body.style.margin = "0";
    const left = new Chart(leftRef.current!, {
      type: "scatter",
      data: {
        datasets: [
          cloud(seriesNames[0], marCloud, cloudColors[0], 5),
          cloud(seriesNames[1], tierraCloud, cloudColors[1], 4),
          cloud(seriesNames[2], cuCloud, cloudColors[2], 3),
          cloud(seriesNames[3], cbCloud, cloudColors[3], 2),
          cloud(seriesNames[4], ciCloud, cloudColors[4], 1),
        ] as any,
      },
      options: {
        animation: false,
        responsive: false,
        layout: { padding: { left: 0, right: 21, top: 0, bottom: 0 } },
        plugins: {
          legend: { display: false },
          tooltip: { enabled: false },
          title: {
            display: true,
            text: chartTitle,
            color: "#111111",
            font: { family: sansFamily, size: 20.5, weight: "bold", lineHeight: 1.2 },
            padding: { top: 27.7, bottom: 0.7 },
          },
        },
        scales: {
          x: {
            type: "linear",
            min: 0,
            max: 256,
            afterBuildTicks: (s: any) => { s.ticks = leftTicks.map((value) => ({ value })); },
            afterFit: (s: any) => { s.height = 53; },
            border: { display: true, color: "#000000", width: 2 },
            grid: {
              color: "#000000",
              lineWidth: (c: any) => leftWidths[c.tick?.value] ?? 1.5,
              tickLength: 5,
            },
            ticks: {
              color: "#111111",
              padding: 13,
              maxRotation: 0,
              autoSkip: false,
              font: { family: sansFamily, size: 19 },
            },
          },
          y: {
            type: "linear",
            min: 0,
            max: 256,
            afterBuildTicks: (s: any) => { s.ticks = leftTicks.map((value) => ({ value })); },
            afterFit: (s: any) => { s.width = 61; },
            border: { display: true, color: "#000000", width: 2 },
            grid: {
              color: "#000000",
              lineWidth: (c: any) => leftHeights[c.tick?.value] ?? 1.5,
              tickLength: 6,
            },
            ticks: {
              color: "#111111",
              padding: 10,
              autoSkip: false,
              font: { family: sansFamily, size: 19 },
            },
          },
        },
      },
      plugins: [scatterDecor],
    } as any);

    const right = new Chart(rightRef.current!, {
      type: "scatter",
      data: {
        datasets: [
          ...contourSets(contoursCb, "#FFC832", 5),
          ...contourSets(contoursCi, "#22F0F0", 4),
          ...contourSets(contoursTierra, "#B0845C", 3),
          ...contourSets(contoursMar, "#2424E6", 2),
          ...contourSets(contoursCu, "#FF2A2A", 1),
        ] as any,
      },
      options: {
        animation: false,
        responsive: false,
        layout: { padding: 0 },
        plugins: { legend: { display: false }, tooltip: { enabled: false }, title: { display: false } },
        scales: {
          x: {
            type: "linear",
            min: 0,
            max: 256.5,
            afterBuildTicks: (s: any) => { s.ticks = rightTicks.map((value) => ({ value })); },
            afterFit: (s: any) => { s.height = 37.7; },
            border: { display: true, color: "#666666", width: 1.5 },
            grid: { drawOnChartArea: false, color: "#666666", tickLength: 5 },
            ticks: { color: "#444444", padding: 2, maxRotation: 0, font: { family: sansFamily, size: 12 } },
          },
          y: {
            type: "linear",
            min: 0,
            max: 255,
            afterBuildTicks: (s: any) => { s.ticks = rightTicks.map((value) => ({ value })); },
            afterFit: (s: any) => { s.width = 44.3; },
            border: { display: true, color: "#666666", width: 1.5 },
            grid: { drawOnChartArea: false, color: "#666666", tickLength: 5 },
            ticks: { color: "#444444", padding: 2, font: { family: sansFamily, size: 12 } },
          },
          x2: {
            type: "linear",
            axis: "x",
            position: "top",
            min: 0,
            max: 256.5,
            afterBuildTicks: (s: any) => { s.ticks = rightTicks.map((value) => ({ value })); },
            afterFit: (s: any) => { s.height = 25.5; },
            border: { display: true, color: "#777777", width: 1 },
            grid: { drawOnChartArea: false, color: "#777777", tickLength: 6 },
            ticks: { callback: () => "", padding: 0 },
          },
          y2: {
            type: "linear",
            axis: "y",
            position: "right",
            min: 0,
            max: 255,
            afterBuildTicks: (s: any) => { s.ticks = rightTicks.map((value) => ({ value })); },
            afterFit: (s: any) => { s.width = 23.5; },
            border: { display: true, color: "#777777", width: 1 },
            grid: { drawOnChartArea: false, color: "#777777", tickLength: 6 },
            ticks: { callback: () => "", padding: 0 },
          },
        },
      },
      plugins: [contourDecor],
    } as any);

    return () => {
      left.destroy();
      right.destroy();
    };
  }, []);

  return (
    <div style={{ position: "fixed", left: 0, top: 0, width: 1148, height: 562, overflow: "hidden", background: "#FFFFFF" }}>
      <canvas ref={leftRef} width={575} height={562} style={{ position: "absolute", left: 0, top: 0, width: 575, height: 562 }} />
      <canvas
        ref={rightRef}
        width={539}
        height={534}
        style={{ position: "absolute", left: 609, top: 28, width: 539, height: 534, background: "#FCFCFC" }}
      />
    </div>
  );
}
